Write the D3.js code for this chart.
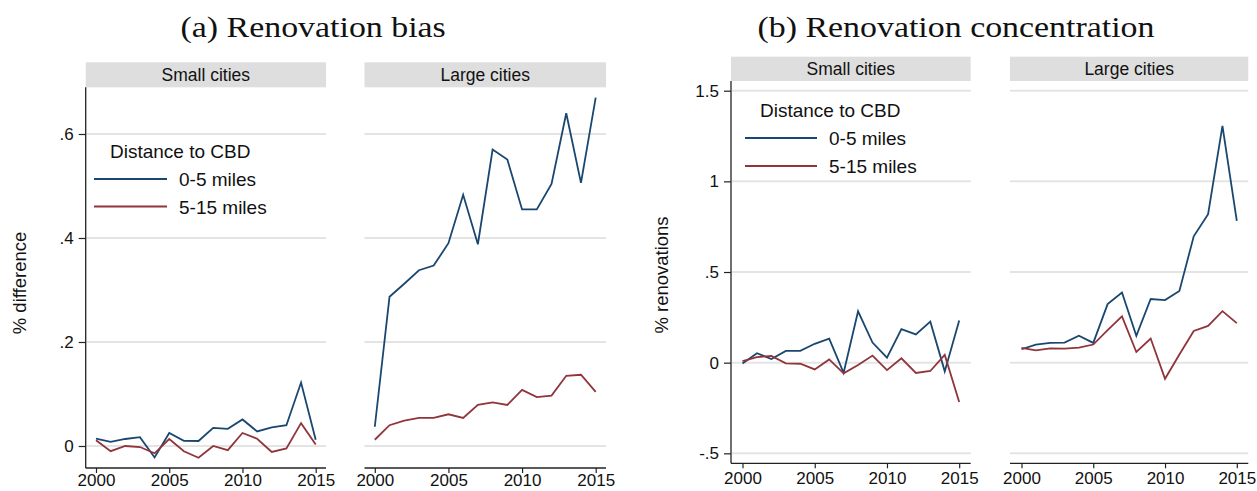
<!DOCTYPE html>
<html>
<head>
<meta charset="utf-8">
<script src="https://cdn.jsdelivr.net/npm/d3@7"></script>
<style>
  html, body { margin: 0; padding: 0; background: #fff; }
  svg { display: block; }
  text { font-family: "Liberation Sans", Arial, sans-serif; fill: #111; }
  .title { font-family: "Liberation Serif", "Times New Roman", serif; }
</style>
</head>
<body>
<svg id="chart" width="1257" height="491"></svg>
<script>
// Years shown on the horizontal axis
const years = d3.range(2000, 2016);
const yearTicks = [2000, 2005, 2010, 2015];

// Panel (a): renovation bias, % difference
const biasSmallNear = [0.014, 0.008, 0.0135, 0.017, -0.022, 0.025, 0.010, 0.0096, 0.035, 0.033, 0.051, 0.028, 0.036, 0.040, 0.122, 0.012];
const biasSmallFar  = [0.011, -0.010, 0.0, -0.002, -0.014, 0.0135, -0.010, -0.0225, 0.0, -0.008, 0.025, 0.014, -0.0115, -0.0045, 0.044, 0.003];
const biasLargeNear = [0.037, 0.287, 0.312, 0.338, 0.347, 0.390, 0.483, 0.388, 0.570, 0.551, 0.455, 0.455, 0.504, 0.640, 0.506, 0.670];
const biasLargeFar  = [0.012, 0.040, 0.049, 0.054, 0.054, 0.061, 0.054, 0.079, 0.084, 0.079, 0.108, 0.094, 0.097, 0.135, 0.137, 0.104];
const biasTicks = [0, 0.2, 0.4, 0.6];
const biasTickLabels = ["0", ".2", ".4", ".6"];

// Panel (b): renovation concentration, % renovations
const concSmallNear = [-0.004, 0.052, 0.020, 0.065, 0.065, 0.104, 0.133, -0.056, 0.283, 0.111, 0.028, 0.185, 0.156, 0.226, -0.048, 0.233];
const concSmallFar  = [0.009, 0.031, 0.037, -0.004, -0.006, -0.037, 0.018, -0.059, -0.013, 0.039, -0.041, 0.024, -0.057, -0.046, 0.043, -0.217];
const concLargeNear = [0.074, 0.100, 0.109, 0.111, 0.149, 0.109, 0.323, 0.387, 0.148, 0.351, 0.345, 0.395, 0.697, 0.819, 1.306, 0.782];
const concLargeFar  = [0.081, 0.068, 0.079, 0.078, 0.083, 0.100, 0.179, 0.255, 0.059, 0.133, -0.089, 0.045, 0.175, 0.203, 0.284, 0.218];
const concTicks = [-0.5, 0, 0.5, 1, 1.5];
const concTickLabels = ["-.5", "0", ".5", "1", "1.5"];

const panelNames = ["Small cities", "Large cities"];
const legendTitle = "Distance to CBD";
const seriesNames = ["0-5 miles", "5-15 miles"];
const seriesColors = ["#1a476f", "#90353b"];

const svg = d3.select("#chart");
svg.append("rect").attr("width", 1257).attr("height", 491).attr("fill", "#fff");

function drawFigure(cfg) {
  const g = svg.append("g");
  const y = d3.scaleLinear().domain(cfg.yDomain).range([cfg.bottom, cfg.top]);

  cfg.panels.forEach((p, i) => {
    const x = d3.scaleLinear().domain([2000, 2015]).range([p.x0 + cfg.pad, p.x1 - cfg.pad]);
    const pg = g.append("g");

    // strip header
    pg.append("rect")
      .attr("x", p.x0).attr("y", cfg.stripTop)
      .attr("width", p.x1 - p.x0).attr("height", cfg.top - cfg.stripTop)
      .attr("fill", "#dedede");
    pg.append("text")
      .attr("x", (p.x0 + p.x1) / 2).attr("y", cfg.stripTop + (cfg.top - cfg.stripTop) / 2 + 6)
      .attr("text-anchor", "middle").attr("font-size", 17.5)
      .text(panelNames[i]);

    // horizontal grid
    pg.append("g").selectAll("line").data(cfg.yTicks).join("line")
      .attr("x1", p.x0 + (i === 0 ? 1 : 0)).attr("x2", p.x1)
      .attr("y1", d => y(d)).attr("y2", d => y(d))
      .attr("stroke", "#e4e4e4").attr("stroke-width", 2);

    // x axis
    const xa = pg.append("g").attr("transform", `translate(0,${cfg.bottom})`)
      .call(d3.axisBottom(x).tickValues(yearTicks).tickFormat(d3.format("d")).tickSize(5).tickPadding(cfg.xPad).tickSizeOuter(0));
    xa.select(".domain").attr("d", `M${p.x0},0H${p.x1}`).attr("stroke", "#222").attr("stroke-width", 1.3);
    xa.selectAll(".tick line").attr("stroke", "#222").attr("stroke-width", 1.2);
    xa.selectAll(".tick text").attr("font-size", 17).attr("font-family", "Liberation Sans, Arial, sans-serif").attr("fill", "#111");

    // y axis on the first panel only
    if (i === 0) {
      const ya = pg.append("g").attr("transform", `translate(${p.x0},0)`)
        .call(d3.axisLeft(y).tickValues(cfg.yTicks).tickFormat((d, k) => cfg.yTickLabels[k]).tickSize(7).tickPadding(5).tickSizeOuter(0));
      ya.select(".domain").attr("d", `M0,${cfg.top}V${cfg.bottom}`).attr("stroke", "#222").attr("stroke-width", 1.3);
      ya.selectAll(".tick line").attr("stroke", "#222").attr("stroke-width", 1.2);
      ya.selectAll(".tick text").attr("font-size", 17).attr("font-family", "Liberation Sans, Arial, sans-serif").attr("fill", "#111");
    }

    // series lines
    const line = d3.line().x((d, k) => x(years[k])).y(d => y(d));
    p.series.forEach((s, k) => {
      pg.append("path").datum(s)
        .attr("d", line).attr("fill", "none")
        .attr("stroke", seriesColors[k]).attr("stroke-width", 1.8)
        .attr("stroke-linejoin", "miter");
    });
  });

  // y-axis title
  g.append("text")
    .attr("transform", `translate(${cfg.yTitleX},${cfg.yTitleY}) rotate(-90)`)
    .attr("text-anchor", "middle").attr("font-size", 18.5)
    .text(cfg.yTitle);

  // legend inside the first panel
  const L = cfg.legend;
  g.append("text").attr("x", L.titleX).attr("y", L.titleY).attr("font-size", 19).text(legendTitle);
  seriesNames.forEach((name, k) => {
    const ly = L.rowY[k];
    g.append("line").attr("x1", L.lineX0).attr("x2", L.lineX1).attr("y1", ly).attr("y2", ly)
      .attr("stroke", seriesColors[k]).attr("stroke-width", 2);
    g.append("text").attr("x", L.textX).attr("y", ly + 7).attr("font-size", 19).text(name);
  });

  // figure title
  const t = g.append("text").attr("class", "title")
    .attr("x", cfg.titleX).attr("y", cfg.titleY).attr("font-size", 30)
    .text(cfg.title);
  return t;
}

const tA = drawFigure({
  title: "(a) Renovation bias", titleX: 180.5, titleY: 37,
  yTitle: "% difference", yTitleX: 26, yTitleY: 283,
  yDomain: [-0.0423, 0.6898], top: 87.3, bottom: 468, stripTop: 62.3, pad: 10.3, xPad: 1,
  yTicks: biasTicks, yTickLabels: biasTickLabels,
  panels: [
    { x0: 85.7, x1: 326, series: [biasSmallNear, biasSmallFar] },
    { x0: 364.5, x1: 606, series: [biasLargeNear, biasLargeFar] }
  ],
  legend: { titleX: 110, titleY: 158, lineX0: 94, lineX1: 167, textX: 179, rowY: [179, 206.5] }
});

const tB = drawFigure({
  title: "(b) Renovation concentration", titleX: 757.5, titleY: 37,
  yTitle: "% renovations", yTitleX: 668, yTitleY: 275,
  yDomain: [-0.555, 1.5535], top: 81, bottom: 463.3, stripTop: 56.7, pad: 11.5, xPad: 4,
  yTicks: concTicks, yTickLabels: concTickLabels,
  panels: [
    { x0: 731, x1: 970.7, series: [concSmallNear, concSmallFar] },
    { x0: 1010, x1: 1248.3, series: [concLargeNear, concLargeFar] }
  ],
  legend: { titleX: 760, titleY: 116.5, lineX0: 745, lineX1: 817, textX: 829, rowY: [138, 166] }
});

// The serif titles are set a little wider than the default face
const stretch = 397 / tB.node().getComputedTextLength();
[tA, tB].forEach(t => {
  const w = t.node().getComputedTextLength();
  t.attr("textLength", w * stretch).attr("lengthAdjust", "spacingAndGlyphs");
});
</script>
</body>
</html>
